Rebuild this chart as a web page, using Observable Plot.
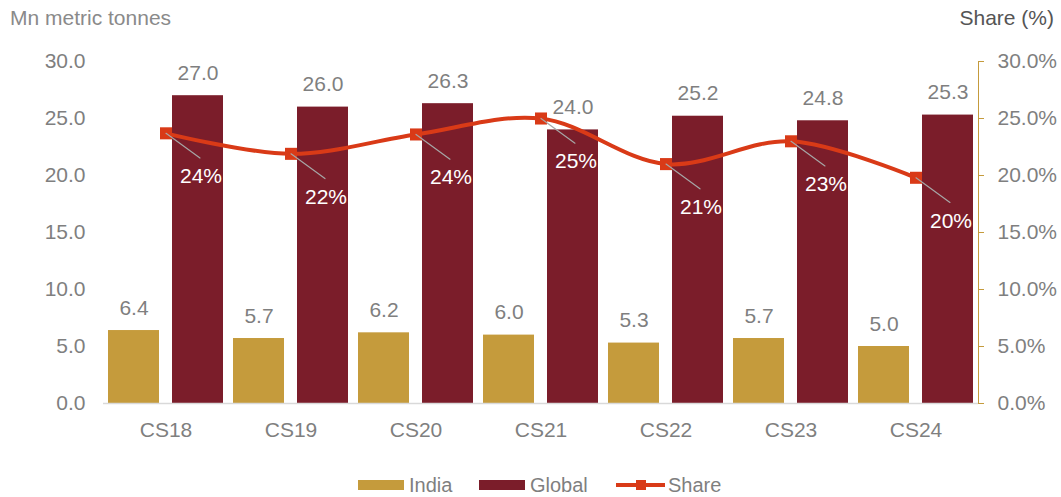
<!DOCTYPE html>
<html>
<head>
<meta charset="utf-8">
<script src="https://cdn.jsdelivr.net/npm/d3@7"></script>
<script src="https://cdn.jsdelivr.net/npm/@observablehq/plot@0.6"></script>
<style>
  html, body { margin: 0; padding: 0; background: #fff; }
  body { font-family: "Liberation Sans", Arial, sans-serif; }
  #wrap { position: relative; width: 1061px; height: 497px; overflow: hidden; }
  #chart { position: absolute; left: 0; top: 0; }
  .title { position: absolute; font-size: 21px; white-space: nowrap; }
  #ytitle { left: 10px; top: 6px; color: #8a8a8a; }
  #rtitle { right: 7px; top: 6px; color: #555; }
  #legend { position: absolute; left: 0; top: 474px; width: 1061px; height: 22px; font-size: 20px; color: #7f7f7f; }
  .li { position: absolute; top: 0; height: 22px; display: flex; align-items: center; }
  .sw { width: 46px; height: 10px; margin-right: 5px; }
  .ln { position: relative; width: 49px; height: 4px; margin-right: 3px; }
  .ln span { position: absolute; left: 20px; top: -3px; width: 10px; height: 10px; }
</style>
</head>
<body>
<div id="wrap">
  <div id="chart"></div>
  <div class="title" id="ytitle">Mn metric tonnes</div>
  <div class="title" id="rtitle">Share (%)</div>
  <div id="legend"></div>
</div>
<script>
const categories = ["CS18", "CS19", "CS20", "CS21", "CS22", "CS23", "CS24"];
const india = [6.4, 5.7, 6.2, 6.0, 5.3, 5.7, 5.0];
const global = [27.0, 26.0, 26.3, 24.0, 25.2, 24.8, 25.3];
const share = [23.7, 21.9, 23.6, 25.0, 21.0, 23.0, 19.8];
const shareLabels = ["24%", "22%", "24%", "25%", "21%", "23%", "20%"];
const yTicks = [0, 5, 10, 15, 20, 25, 30];
const seriesNames = ["India", "Global", "Share"];

const GOLD = "#C59B3C";
const WINE = "#7B1D2A";
const RED = "#D93A17";
const GRAY = "#7f7f7f";

const rows = categories.map((c, i) => ({
  cat: c, india: india[i], global: global[i], share: share[i], shareLabel: shareLabels[i]
}));

const chart = Plot.plot({
  width: 1061,
  height: 460,
  marginTop: 61,
  marginBottom: 57,
  marginLeft: 103,
  marginRight: 83,
  style: { fontFamily: "'Liberation Sans', Arial, sans-serif", fontSize: "21px", background: "transparent" },
  x: { domain: categories, padding: 0, axis: null },
  y: { domain: [0, 30], axis: null },
  marks: [
    Plot.barY(rows, { x: "cat", y: "india", fill: GOLD, insetLeft: 5, insetRight: 69 }),
    Plot.barY(rows, { x: "cat", y: "global", fill: WINE, insetLeft: 69, insetRight: 5 }),
    Plot.ruleY([0], { stroke: "#d9d9d9", strokeWidth: 1.5 }),
    Plot.text(rows, { x: "cat", y: "india", text: d => d.india.toFixed(1), dx: -32, dy: -16, lineAnchor: "bottom", fill: GRAY }),
    Plot.text(rows, { x: "cat", y: "global", text: d => d.global.toFixed(1), dx: 32, dy: -16, lineAnchor: "bottom", fill: GRAY }),
    Plot.line(rows, { x: "cat", y: "share", stroke: RED, strokeWidth: 4, curve: "catmull-rom" }),
    Plot.dot(rows, { x: "cat", y: "share", symbol: "square", r: 6.8, fill: RED, stroke: "none" }),
    Plot.vector(rows, { x: "cat", y: "share", length: 42, rotate: 126, anchor: "start", r: 0, stroke: "#a6a6a6", strokeWidth: 1.2 }),
    Plot.text(rows, { x: "cat", y: "share", text: "shareLabel", dx: 35, dy: 43, lineAnchor: "middle", fill: "white" }),
    Plot.axisY(yTicks, { anchor: "left", tickSize: 0, tickPadding: 18, tickFormat: d => d.toFixed(1), fill: GRAY, label: null }),
    Plot.axisY(yTicks, { anchor: "right", tickSize: 5, tickPadding: 14, tickFormat: d => d.toFixed(1) + "%", stroke: GOLD, fill: GRAY, label: null }),
    Plot.frame({ anchor: "right", stroke: GOLD }),
    Plot.axisX({ tickSize: 0, tickPadding: 19, fill: GRAY, label: null })
  ]
});
document.getElementById("chart").appendChild(chart);

// legend
const legend = document.getElementById("legend");
const lefts = [358, 479, 616];
const colors = [GOLD, WINE, RED];
seriesNames.forEach((name, i) => {
  const item = document.createElement("div");
  item.className = "li";
  item.style.left = lefts[i] + "px";
  if (i < 2) {
    const sw = document.createElement("div");
    sw.className = "sw";
    sw.style.background = colors[i];
    item.appendChild(sw);
  } else {
    const ln = document.createElement("div");
    ln.className = "ln";
    ln.style.background = colors[i];
    const mk = document.createElement("span");
    mk.style.background = colors[i];
    ln.appendChild(mk);
    item.appendChild(ln);
  }
  const t = document.createElement("span");
  t.textContent = name;
  item.appendChild(t);
  legend.appendChild(item);
});
</script>
</body>
</html>
